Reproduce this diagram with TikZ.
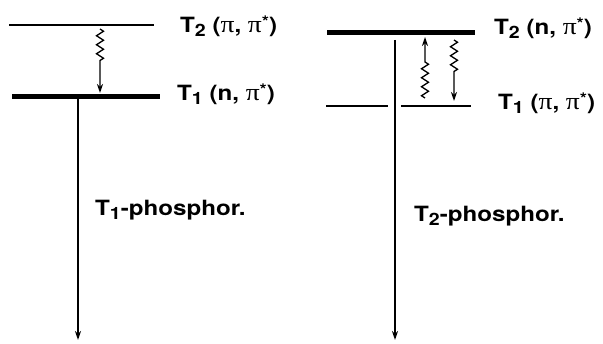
\documentclass[tikz,border=0pt]{standalone}
\usepackage{fontspec}
\setmainfont[FakeStretch=1.15]{TeX Gyre Heros}
\newfontfamily\grk[FakeStretch=1.15]{Liberation Serif}
\usetikzlibrary{decorations.pathmorphing,arrows.meta}
\newcommand{\sbs}[1]{\raisebox{-0.3ex}{\fontsize{17}{20}\selectfont #1}}
\newcommand{\pis}{{\fontsize{24}{27}\selectfont\grk\mdseries π}}
\newcommand{\pst}{{\fontsize{24}{27}\selectfont\grk\mdseries π}\raisebox{0.5ex}{\fontsize{16}{18}\selectfont *}}
\begin{document}
\begin{tikzpicture}[x=1pt,y=-1pt,
  thinlevel/.style={line width=1.6pt},
  thicklevel/.style={line width=5pt},
  emit/.style={line width=1.6pt,-{Stealth[length=9pt,width=6pt]}},
  wavy/.style={line width=1.3pt,-{Stealth[length=9pt,width=6pt]},decorate,
    decoration={zigzag,amplitude=3.5pt,segment length=9pt,post length=#1}},
  lbl/.style={font=\fontsize{21}{25}\selectfont\bfseries,anchor=base west,inner sep=0pt}]
\useasboundingbox (0,0) rectangle (603,344);
% left diagram
\coordinate (lT2a) at (9,25); \coordinate (lT2b) at (154,25);
\coordinate (lT1a) at (12,97); \coordinate (lT1b) at (160,97);
\draw[thinlevel] (lT2a) -- (lT2b);
\draw[thicklevel] (lT1a) -- (lT1b);
\node[lbl] (lT2) at (180,33) {T\sbs{2} (\pis, \pst)};
\node[lbl] (lT1) at (177,101) {T\sbs{1} (n, \pst)};
\coordinate (lw1) at (100,29); \coordinate (lw2) at (100,93);
\draw[wavy=32pt] (lw1) -- (lw2);
\coordinate (le1) at (78,99.5); \coordinate (le2) at (78,340);
\draw[emit] (le1) -- (le2);
\node[lbl] (lph) at (95,216) {T\sbs{1}-phosphor.};
% right diagram
\coordinate (rT2a) at (327,33); \coordinate (rT2b) at (475,33);
\draw[thicklevel] (rT2a) -- (rT2b);
\coordinate (rT1a) at (326,106); \coordinate (rT1b) at (388,106);
\coordinate (rT1c) at (401,106); \coordinate (rT1d) at (471,106);
\draw[thinlevel] (rT1a) -- (rT1b);
\draw[thinlevel] (rT1c) -- (rT1d);
\node[lbl] (rT2) at (494,35) {T\sbs{2} (n, \pst)};
\node[lbl] (rT1) at (498,110) {T\sbs{1} (\pis, \pst)};
\coordinate (ru1) at (425,98); \coordinate (ru2) at (425,37);
\draw[wavy=22pt] (ru1) -- (ru2);
\coordinate (rd1) at (454,40); \coordinate (rd2) at (454,101);
\draw[wavy=26pt] (rd1) -- (rd2);
\coordinate (re1) at (395,40); \coordinate (re2) at (395,340);
\draw[emit] (re1) -- (re2);
\node[lbl] (rph) at (414,222) {T\sbs{2}-phosphor.};
\end{tikzpicture}
\end{document}
